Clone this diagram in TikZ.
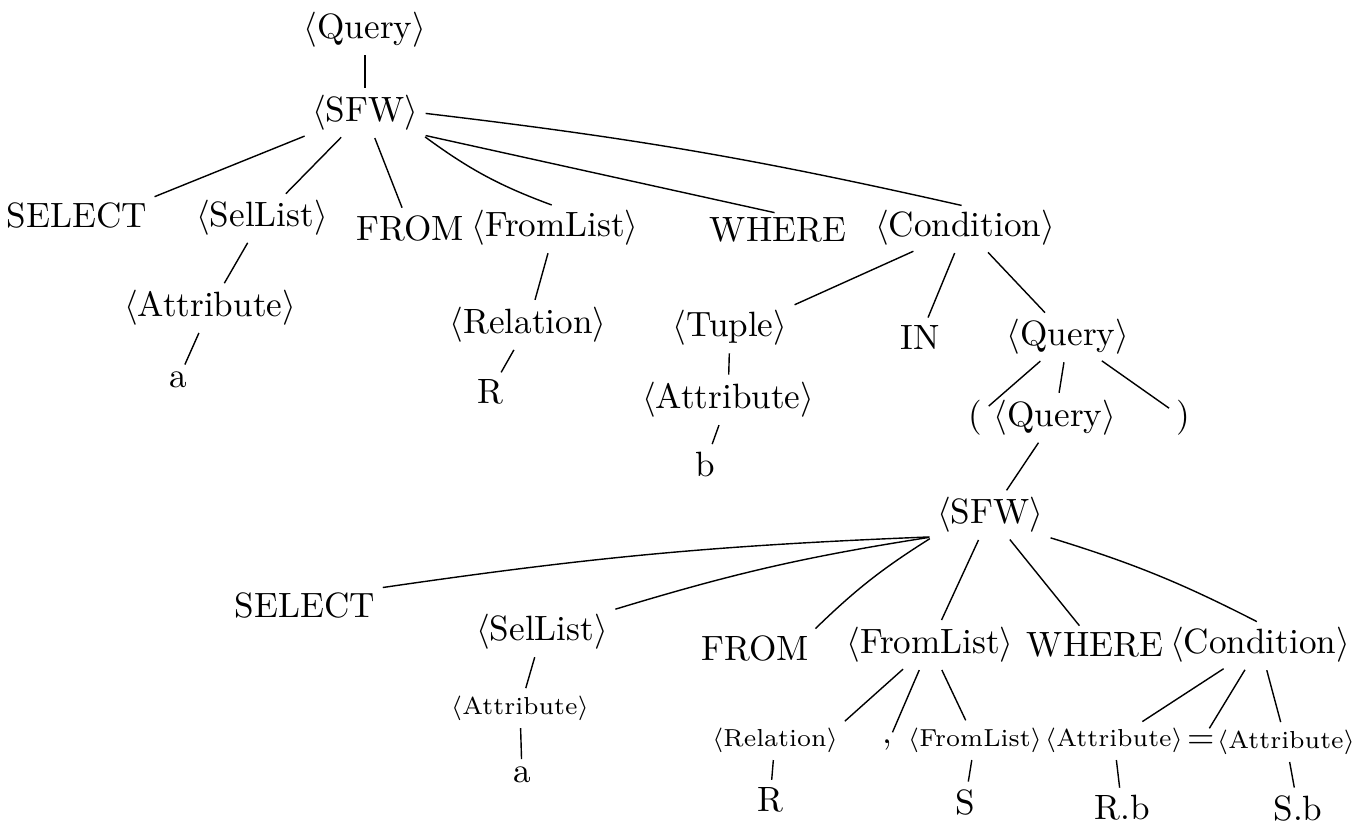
\documentclass[tikz,border=0pt]{standalone}
\usepackage{amsmath}
\usepackage{tikz}
\usetikzlibrary{positioning,calc}
\newcommand{\nt}[1]{$\langle$#1$\rangle$}
\begin{document}
\begin{tikzpicture}[link/.style = {shorten <=1pt, shorten >=1pt}]
		\tikzset{word/.style={inner sep=1pt,font=\normalsize}, small word/.style={inner sep=1pt,font=\fontsize{7}{9}\selectfont}}
		\useasboundingbox (0,0) rectangle (13.58,-8.34);

		\node[word] (qA) at (3.65,-0.30) {\nt{Query}};
		\node[word] (sfwA) at (3.65,-1.13) {\nt{SFW}};

		\node[word] (selA) at (0.77,-2.15) {SELECT};
		\node[word] (slA) at (2.62,-2.18) {\nt{SelList}};
		\node[word] (frA) at (4.10,-2.28) {FROM};
		\node[word] (flA) at (5.55,-2.28) {\nt{FromList}};
		\node[word] (whA) at (7.78,-2.30) {WHERE};
		\node[word] (cdA) at (9.65,-2.28) {\nt{Condition}};

		\node[word] (atA) at (2.10,-3.08) {\nt{Attribute}};
		\node[word] (aA) at (1.78,-3.80) {a};
		\node[word] (relA) at (5.28,-3.25) {\nt{Relation}};
		\node[word] (rA) at (4.90,-3.92) {R};

		\node[word] (tpB) at (7.30,-3.28) {\nt{Tuple}};
		\node[word] (inB) at (9.20,-3.37) {IN};
		\node[word] (qB) at (10.68,-3.37) {\nt{Query}};
		\node[word] (atB) at (7.28,-4.00) {\nt{Attribute}};
		\node[word] (bB) at (7.05,-4.64) {b};

		\node[word] (lpC) at (9.75,-4.18) {(};
		\node[word] (qC) at (10.55,-4.18) {\nt{Query}};
		\node[word] (rpC) at (11.83,-4.18) {)};
		\node[word] (sfwC) at (9.90,-5.15) {\nt{SFW}};

		\node[word] (selC) at (3.05,-6.05) {SELECT};
		\node[word] (slC) at (5.42,-6.32) {\nt{SelList}};
		\node[word] (frC) at (7.55,-6.48) {FROM};
		\node[word] (flC) at (9.30,-6.45) {\nt{FromList}};
		\node[word] (whC) at (10.95,-6.45) {WHERE};
		\node[word] (cdC) at (12.60,-6.45) {\nt{Condition}};

		\node[small word] (atC) at (5.20,-7.08) {\nt{Attribute}};
		\node[word] (aC) at (5.22,-7.75) {a};
		\node[small word] (relC) at (7.75,-7.40) {\nt{Relation}};
		\node[word] (cmC) at (8.87,-7.45) {,};
		\node[small word] (flD) at (9.75,-7.40) {\nt{FromList}};
		\node[small word] (atD) at (11.14,-7.40) {\nt{Attribute}};
		\node[word] (eqC) at (12.01,-7.42) {=};
		\node[small word] (atE) at (12.86,-7.42) {\nt{Attribute}};

		\node[word] (rC) at (7.70,-8.00) {R};
		\node[word] (sD) at (9.65,-8.02) {S};
		\node[word] (rbD) at (11.22,-8.08) {R.b};
		\node[word] (sbE) at (12.98,-8.08) {S.b};

		\draw [link] (qA) -- (sfwA);
		\draw [link] (sfwA.south west) -- (selA.north east);
		\draw [link] (sfwA) -- (slA);
		\draw [link] (sfwA) -- (frA);
		\draw [link] (sfwA.south east) to [bend right=8] (flA.north);
		\draw [link] (sfwA.south east) -- (whA.north);
		\draw [link] (sfwA.east) to [bend left=3] (cdA.north);
		\draw [link] (slA) -- (atA);
		\draw [link] (atA) -- (aA);
		\draw [link] (flA) -- (relA);
		\draw [link] (relA) -- (rA);

		\draw [link] (cdA) -- (tpB.north east);
		\draw [link] (cdA) -- (inB);
		\draw [link] (cdA) -- (qB);
		\draw [link] (tpB) -- (atB);
		\draw [link] (atB) -- (bB);
		\draw [link] (qB) -- (lpC);
		\draw [link] (qB) -- (qC);
		\draw [link] (qB) -- (rpC);
		\draw [link] (qC) -- (sfwC);

		\draw [link] (sfwC.south west) to [bend right=3] (selC.north east);
		\draw [link] (sfwC.south west) to [bend right=4] (slC.north east);
		\draw [link] (sfwC.south west) to [bend right=6] (frC.north east);
		\draw [link] (sfwC) -- (flC);
		\draw [link] (sfwC) -- (whC);
		\draw [link] (sfwC.south east) to [bend left=5] (cdC.north);
		\draw [link] (slC) -- (atC);
		\draw [link] (atC) -- (aC);

		\draw [link] (flC) -- (relC.north east);
		\draw [link] (flC) -- (cmC);
		\draw [link] (flC) -- (flD);
		\draw [link] (relC) -- (rC);
		\draw [link] (flD) -- (sD);
		\draw [link] (cdC) -- (atD);
		\draw [link] (cdC) -- (eqC);
		\draw [link] (cdC) -- (atE);
		\draw [link] (atD) -- (rbD);
		\draw [link] (atE) -- (sbE);

	\end{tikzpicture}
\end{document}
